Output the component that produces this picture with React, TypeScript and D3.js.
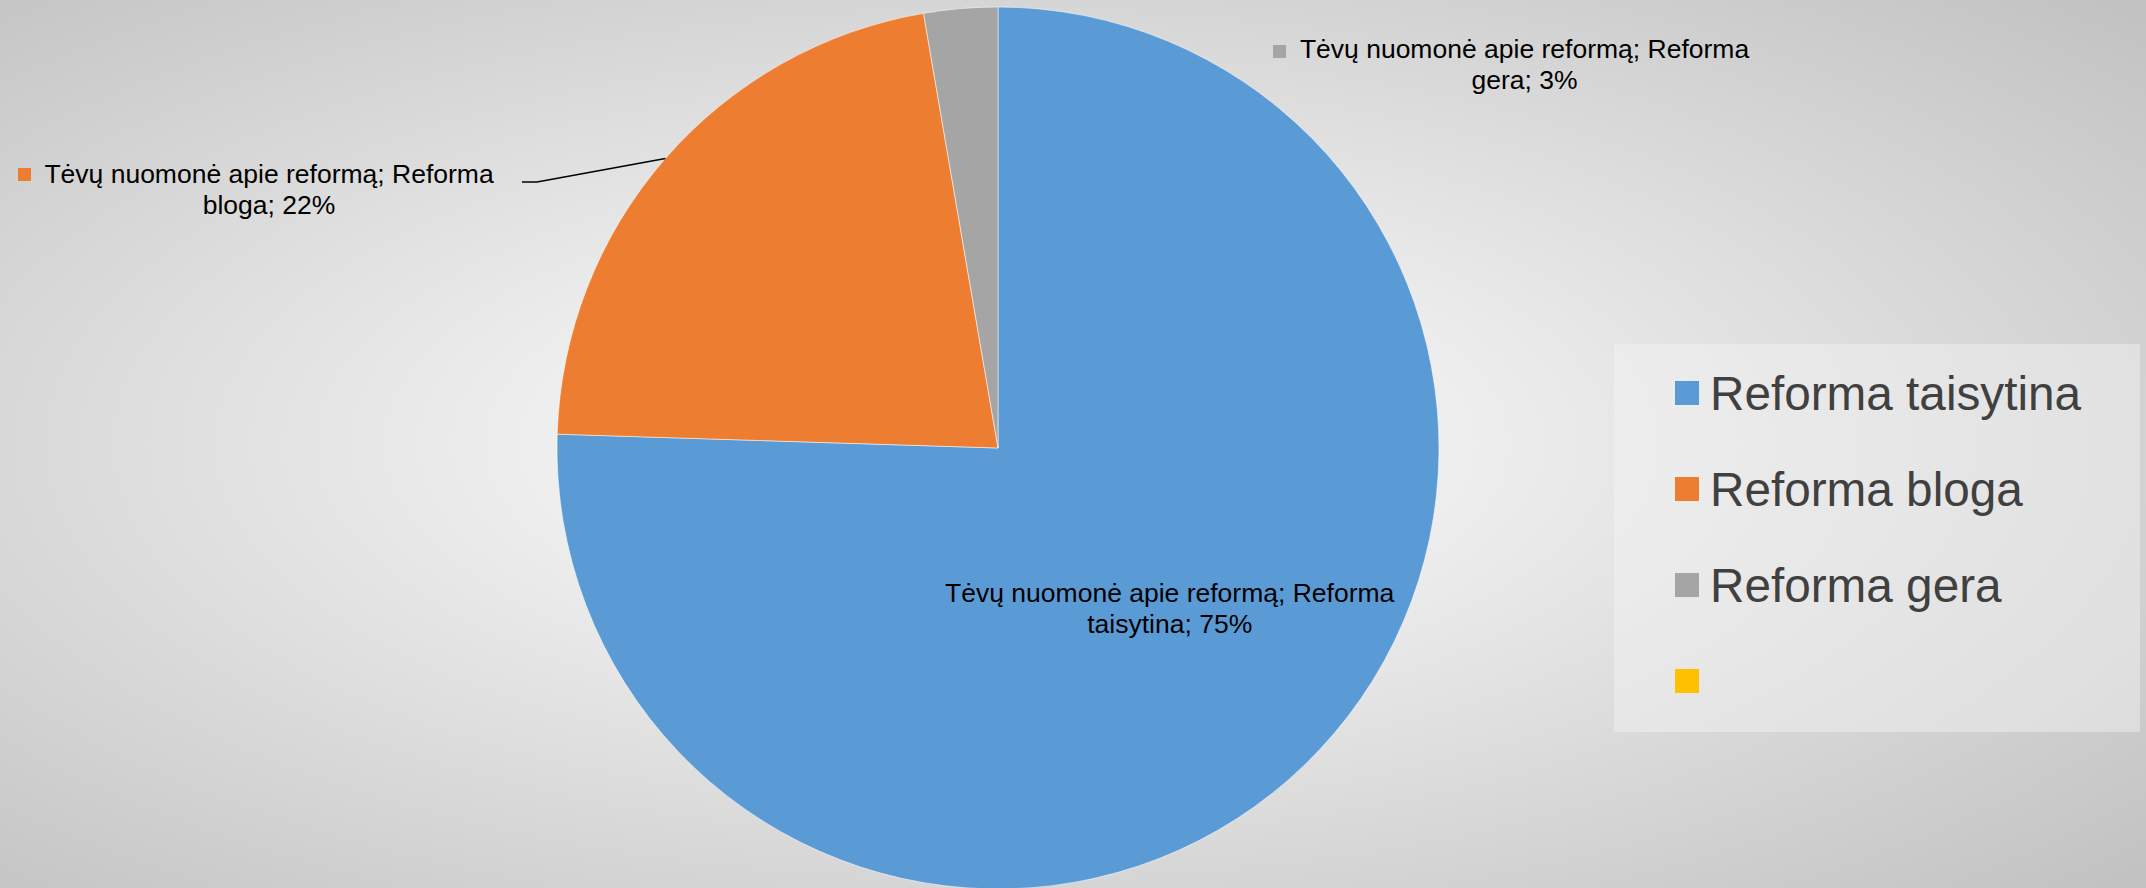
import React from "react";
import * as d3 from "d3";

const categories = ["Reforma taisytina", "Reforma bloga", "Reforma gera", ""];
const values = [75.5, 21.8, 2.7, 0];
const percentLabels = ["75%", "22%", "3%", ""];
const colors = ["#5b9bd5", "#ed7d31", "#a5a5a5", "#ffc000"];
const seriesName = "Tėvų nuomonė apie reformą";

const W = 2146;
const H = 888;
const CX = 998;
const CY = 448;
const R = 441;
const FONT = "'Liberation Sans', Arial, sans-serif";

export default function App() {
  const pie = d3
    .pie<number>()
    .sort(null)
    .value((d) => d)
    .startAngle(0)
    .endAngle(Math.PI * 2);
  const arcs = pie(values);
  const arcGen = d3.arc<d3.PieArcDatum<number>>().innerRadius(0).outerRadius(R);
  const edgeArc = d3.arc<d3.PieArcDatum<number>>().innerRadius(R).outerRadius(R);
  const inArc = d3.arc<d3.PieArcDatum<number>>().innerRadius(0).outerRadius(R * 1.08);

  const orangeEdge = edgeArc.centroid(arcs[1]);
  const blueC = inArc.centroid(arcs[0]);

  const leader = d3.line()([
    [CX + orangeEdge[0], CY + orangeEdge[1]],
    [537, 182],
    [522, 182],
  ]);

  const labelFs = 26.5;
  const legendFs = 47.7;

  const labels = [
    {
      i: 0,
      cx: CX + blueC[0] + 6,
      y1: 602,
      sq: null as null | [number, number],
    },
    { i: 1, cx: 269, y1: 183, sq: [18, 168] as [number, number] },
    { i: 2, cx: 1524.5, y1: 58, sq: [1273, 45] as [number, number] },
  ];

  return (
    <svg
      width={W}
      height={H}
      style={{ position: "absolute", left: 0, top: 0, display: "block" }}
    >
      <defs>
        <radialGradient id="bg" cx="0.465" cy="0.5" r="0.72" gradientUnits="objectBoundingBox">
          <stop offset="0" stopColor="#f2f2f2" />
          <stop offset="0.3" stopColor="#eeeeee" />
          <stop offset="1" stopColor="#c2c2c2" />
        </radialGradient>
      </defs>
      <rect x={0} y={0} width={W} height={H} fill="url(#bg)" />

      <g transform={`translate(${CX},${CY})`}>
        {arcs.map((a, i) =>
          a.value > 0 ? (
            <path
              key={i}
              d={arcGen(a) || ""}
              fill={colors[i]}
              stroke="#ffffff"
              strokeWidth={0.75}
              strokeOpacity={0.7}
            />
          ) : null
        )}
      </g>

      <path d={leader || ""} fill="none" stroke="#000" strokeWidth={1.5} />

      {labels.map((l) => (
        <g key={l.i} fontFamily={FONT} fontSize={labelFs} fill="#000">
          {l.sq && (
            <rect x={l.sq[0]} y={l.sq[1]} width={13} height={13} fill={colors[l.i]} />
          )}
          <text x={l.cx} y={l.y1} textAnchor="middle">
            {`${seriesName}; Reforma`}
          </text>
          <text x={l.cx} y={l.y1 + 31} textAnchor="middle">
            {`${categories[l.i].replace("Reforma ", "")}; ${percentLabels[l.i]}`}
          </text>
        </g>
      ))}

      <rect x={1614} y={344} width={2140 - 1614} height={732 - 344} fill="#f4f4f4" opacity={0.45} />
      {categories.map((c, i) => (
        <g key={i}>
          <rect x={1675} y={381 + i * 96} width={24} height={24} fill={colors[i]} />
          <text
            x={1710}
            y={393 + i * 96 + 17}
            fontFamily={FONT}
            fontSize={legendFs}
            fill="#404040"
          >
            {c}
          </text>
        </g>
      ))}
    </svg>
  );
}
